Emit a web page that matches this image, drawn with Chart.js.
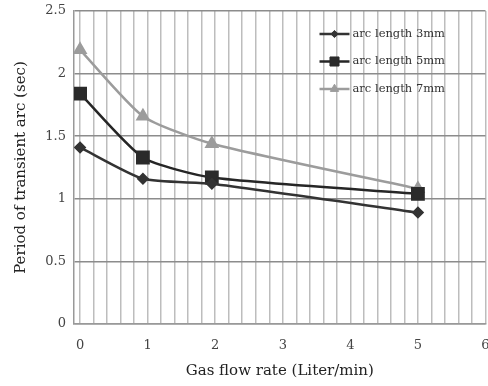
<!DOCTYPE html>
<html>
<head>
<meta charset="utf-8">
<title>Period of transient arc</title>
<script src="https://cdn.jsdelivr.net/npm/chart.js@4.4.1/dist/chart.umd.min.js"></script>
<style>
  html, body { margin: 0; padding: 0; background: #fff; overflow: hidden; }
  /* the canvas is a bit wider than the page so the "6" label hangs off the edge like the original */
  #wrap { width: 488px; height: 386px; overflow: hidden; }
  #chart { display: block; }
</style>
</head>
<body>
<div id="wrap"><canvas id="chart" width="496" height="386"></canvas></div>
<script>
// Data
const flowRates = [0, 0.93, 1.95, 5];
const arc3mm = [1.41, 1.16, 1.12, 0.89];
const arc5mm = [1.84, 1.33, 1.17, 1.04];
const arc7mm = [2.19, 1.66, 1.44, 1.08];
const seriesNames = ['arc length 3mm', 'arc length 5mm', 'arc length 7mm'];
const xTickLabels = [0, 1, 2, 3, 4, 5, 6];
const yTickLabels = [0, 0.5, 1, 1.5, 2, 2.5];

const serif = "'DejaVu Serif', 'Liberation Serif', serif";

function toPoints(values) {
    return values.map((v, i) => ({ x: flowRates[i], y: v }));
}

// Legend drawn inside the plot, top right
const innerLegend = {
    id: 'innerLegend',
    afterDatasetsDraw(chart) {
        const ctx = chart.ctx;
        const area = chart.chartArea;
        ctx.save();
        chart.data.datasets.forEach((ds, i) => {
            const y = area.top + 23 + i * 27.5;
            const x0 = area.right - 166;
            const x1 = area.right - 136;
            ctx.strokeStyle = ds.borderColor;
            ctx.lineWidth = ds.borderWidth;
            ctx.beginPath();
            ctx.moveTo(x0, y);
            ctx.lineTo(x1, y);
            ctx.stroke();
            ctx.fillStyle = ds.pointBackgroundColor;
            ctx.strokeStyle = ds.pointBorderColor;
            ctx.lineWidth = 1;
            Chart.helpers.drawPoint(ctx, {
                pointStyle: ds.pointStyle,
                radius: ds.pointRadius * 0.8,
                rotation: 0,
                borderWidth: 1
            }, (x0 + x1) / 2, y);
            ctx.fillStyle = '#333';
            ctx.font = '11.5px ' + serif;
            ctx.textBaseline = 'middle';
            ctx.textAlign = 'left';
            ctx.fillText(ds.label, x1 + 3, y);
        });
        ctx.restore();
    }
};

const ctx = document.getElementById('chart').getContext('2d');
const chart = new Chart(ctx, {
    type: 'line',
    data: {
        datasets: [
            {
                label: seriesNames[0],
                data: toPoints(arc3mm),
                borderColor: '#333333',
                borderWidth: 2.5,
                pointStyle: 'rectRot',
                pointRadius: 4.5,
                pointBackgroundColor: '#333333',
                pointBorderColor: '#333333',
                tension: 0.2
            },
            {
                label: seriesNames[1],
                data: toPoints(arc5mm),
                borderColor: '#262626',
                borderWidth: 2.5,
                pointStyle: 'rect',
                pointRadius: 8,
                pointBackgroundColor: '#2a2a2a',
                pointBorderColor: '#2a2a2a',
                tension: 0.2
            },
            {
                label: seriesNames[2],
                data: toPoints(arc7mm),
                borderColor: '#9c9c9c',
                borderWidth: 2.5,
                pointStyle: 'triangle',
                pointRadius: 6,
                pointBackgroundColor: '#9c9c9c',
                pointBorderColor: '#9c9c9c',
                tension: 0.2
            }
        ]
    },
    options: {
        responsive: false,
        animation: false,
        layout: { padding: { top: 11, right: 2, left: 0, bottom: 0 } },
        plugins: {
            legend: { display: false },
            tooltip: { enabled: false }
        },
        scales: {
            x: {
                type: 'linear',
                min: -0.09,
                max: 6,
                afterFit(scale) {
                    scale.height = 62;
                    scale.paddingLeft = 0;
                    scale.paddingRight = 0;
                },
                border: { display: true, color: '#999', width: 1.5 },
                grid: { color: '#bdbdbd', lineWidth: 1.5, drawTicks: false },
                ticks: {
                    stepSize: 0.2,
                    includeBounds: false,
                    autoSkip: false,
                    maxRotation: 0,
                    padding: 14,
                    color: '#444',
                    font: { family: serif, size: 13 },
                    callback(v) {
                        const r = Math.round(v);
                        return (Math.abs(v - r) < 1e-6 && xTickLabels.includes(r)) ? String(r) : '';
                    }
                },
                title: {
                    display: true,
                    text: 'Gas flow rate (Liter/min)',
                    color: '#222',
                    font: { family: serif, size: 15 },
                    padding: { top: 0, bottom: 6 }
                }
            },
            y: {
                min: 0,
                max: 2.5,
                afterFit(scale) {
                    scale.width = 74;
                    scale.paddingTop = 0;
                    scale.paddingBottom = 0;
                },
                border: { display: true, color: '#999', width: 1.5 },
                grid: { color: '#8c8c8c', lineWidth: 1.5, drawTicks: false },
                ticks: {
                    stepSize: 0.5,
                    padding: 8,
                    color: '#444',
                    font: { family: serif, size: 13 },
                    callback(v) {
                        return yTickLabels.includes(v) ? String(v) : '';
                    }
                },
                title: {
                    display: true,
                    text: 'Period of transient arc (sec)',
                    color: '#222',
                    font: { family: serif, size: 15 },
                    padding: { top: 12, bottom: 0 }
                }
            }
        }
    },
    plugins: [innerLegend]
});
</script>
</body>
</html>
